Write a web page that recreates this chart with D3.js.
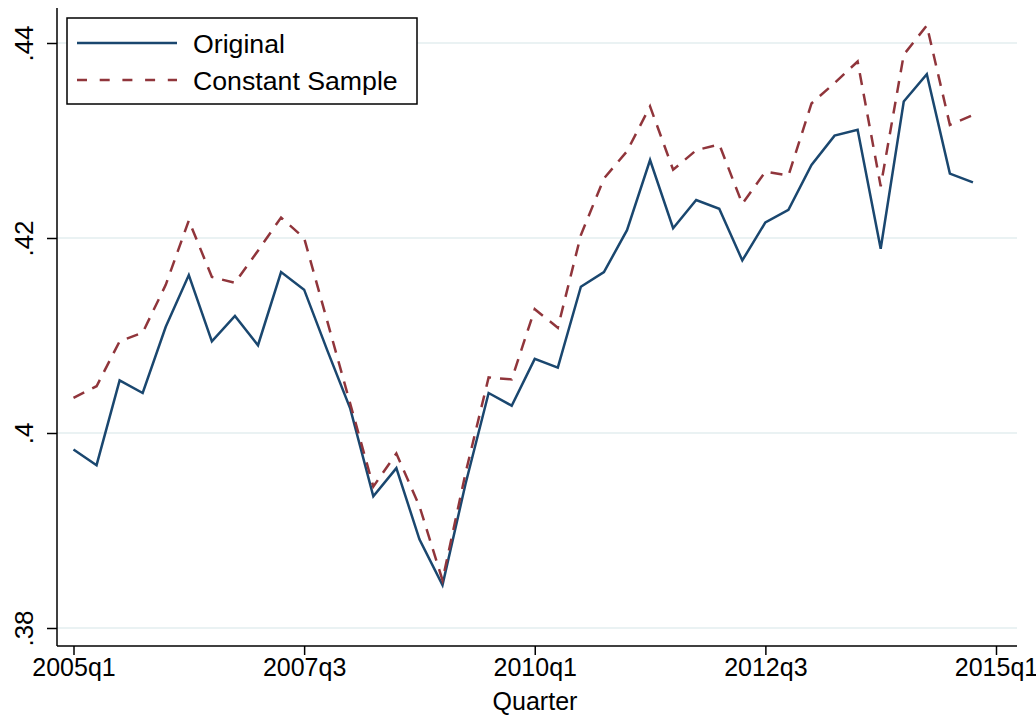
<!DOCTYPE html>
<html>
<head>
<meta charset="utf-8">
<script src="https://cdn.jsdelivr.net/npm/d3@7"></script>
<style>
html,body{margin:0;padding:0;background:#fff;}
svg{display:block;}
text{font-family:"Liberation Sans",Arial,Helvetica,sans-serif;}
</style>
</head>
<body>
<svg id="chart" width="1036" height="715"></svg>
<script>
// quarters 2005q1 .. 2014q4 (index 0..39)
const quarters = d3.range(40).map(i => (2005 + Math.floor(i / 4)) + "q" + (i % 4 + 1));
const original = [
  .3983, .3967, .4054, .4041, .4109, .4162, .4094, .4120, .4090, .4165,
  .4147, .4085, .4025, .3935, .3964, .3891, .3844, .3948, .4041, .4028,
  .4076, .4067, .4150, .4165, .4208, .4280, .4210, .4239, .4230, .4177,
  .4216, .4229, .4275, .4305, .4311, .4189, .4340, .4368, .4266, .4257
];
const constantSample = [
  .4036, .4048, .4094, .4103, .4152, .4218, .4160, .4154, .4187, .4221,
  .4200, .4115, .4030, .3945, .3979, .3925, .3849, .3959, .4057, .4055,
  .4127, .4108, .4203, .4261, .4289, .4335, .4270, .4290, .4296, .4235,
  .4268, .4264, .4338, .4359, .4381, .4253, .4388, .4418, .4316, .4326
];
const xTickIdx = [0, 10, 20, 30, 40];
const xTickLabels = ["2005q1", "2007q3", "2010q1", "2012q3", "2015q1"];
const yTicks = [.38, .40, .42, .44];
const yTickLabels = [".38", ".4", ".42", ".44"];
const seriesNames = ["Original", "Constant Sample"];

const svg = d3.select("#chart");
const plotL = 57, plotR = 1017, plotT = 8, plotB = 646;

const x = d3.scaleLinear().domain([0, 40]).range([73.5, 996]);
const y = d3.scaleLinear().domain([.38, .44]).range([628, 43]);

// gridlines
svg.append("g").selectAll("line").data(yTicks).join("line")
  .attr("x1", plotL).attr("x2", plotR)
  .attr("y1", d => y(d)).attr("y2", d => y(d))
  .attr("stroke", "#eaf2f3").attr("stroke-width", 2);

// series
const line = d3.line().x((d, i) => x(i)).y(d => y(d));
svg.append("path").datum(original).attr("d", line)
  .attr("fill", "none").attr("stroke", "#1a476f").attr("stroke-width", 2.5)
  .attr("stroke-linejoin", "miter");
svg.append("path").datum(constantSample).attr("d", line)
  .attr("fill", "none").attr("stroke", "#90353b").attr("stroke-width", 2.5)
  .attr("stroke-dasharray", "12,9");

// y axis
const yAxis = d3.axisLeft(y).tickValues(yTicks)
  .tickFormat((d, i) => yTickLabels[i]).tickSize(10).tickSizeOuter(0);
const gy = svg.append("g").attr("transform", `translate(${plotL},0)`).call(yAxis);
gy.select(".domain").attr("d", `M0,${plotT}V${plotB}`).attr("stroke", "#000").attr("stroke-width", 1.5);
gy.selectAll(".tick line").attr("stroke", "#000").attr("stroke-width", 1.5);
gy.selectAll(".tick text")
  .attr("font-size", 26).attr("fill", "#000")
  .attr("text-anchor", "middle")
  .attr("transform", "translate(-24,0) rotate(-90)")
  .attr("x", 0).attr("y", 0).attr("dy", 0);

// x axis
const xAxis = d3.axisBottom(x).tickValues(xTickIdx)
  .tickFormat((d, i) => xTickLabels[i]).tickSize(9).tickSizeOuter(0);
const gx = svg.append("g").attr("transform", `translate(0,${plotB})`).call(xAxis);
gx.select(".domain").attr("d", `M${plotL},0H${plotR}`).attr("stroke", "#000").attr("stroke-width", 1.5);
gx.selectAll(".tick line").attr("stroke", "#000").attr("stroke-width", 1.5);
gx.selectAll(".tick text").attr("font-size", 25).attr("fill", "#000")
  .attr("y", 12).attr("dy", "0.71em");

svg.append("text").attr("x", (plotL + plotR) / 2 - 2).attr("y", 710)
  .attr("text-anchor", "middle").attr("font-size", 25).text("Quarter");

// legend
const lg = svg.append("g");
lg.append("rect").attr("x", 67).attr("y", 18).attr("width", 350).attr("height", 86)
  .attr("fill", "#fff").attr("stroke", "#000").attr("stroke-width", 1.5);
const legendY = [43, 80];
const legendStyles = [{c: "#1a476f", dash: null}, {c: "#90353b", dash: "10,12.7"}];
seriesNames.forEach((name, i) => {
  lg.append("line").attr("x1", 77).attr("x2", 177)
    .attr("y1", legendY[i]).attr("y2", legendY[i])
    .attr("stroke", legendStyles[i].c).attr("stroke-width", 2.5)
    .attr("stroke-dasharray", legendStyles[i].dash);
  lg.append("text").attr("x", 193).attr("y", legendY[i] + 9.5)
    .attr("font-size", 26.7).attr("fill", "#000").text(name);
});
</script>
</body>
</html>
